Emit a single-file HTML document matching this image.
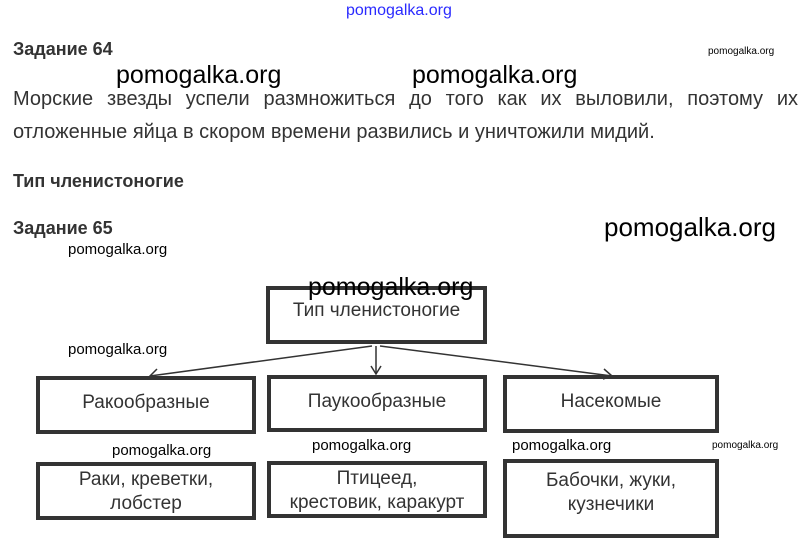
<!DOCTYPE html>
<html><head><meta charset="utf-8"><style>
body{margin:0;width:807px;height:543px;background:#fff;position:relative;overflow:hidden;font-family:"Liberation Sans",sans-serif;color:#333}
.a{position:absolute;white-space:nowrap}
.h{font-weight:bold;font-size:18px;color:#333}
.w{font-family:"Liberation Sans Narrow","Liberation Sans",sans-serif;color:#000}
.box{position:absolute;border:4px solid #333;box-sizing:border-box;display:flex;justify-content:center;font-size:19px;color:#333;text-align:center;line-height:26px}
.box.t{line-height:24px;padding-top:2px;font-size:19px}
</style></head><body>
<div class="a" style="left:346px;top:2px;font-size:16px;color:#2a2aff">pomogalka.org</div>
<div class="a h" style="left:13px;top:39px">Задание 64</div>
<div class="a w" style="left:708px;top:46px;font-size:10px">pomogalka.org</div>
<div class="a w" style="left:116px;top:61px;font-size:25px">pomogalka.org</div>
<div class="a w" style="left:412px;top:61px;font-size:25px">pomogalka.org</div>
<div class="a" style="left:13px;top:88px;width:785px;font-size:20px;text-align:justify;text-align-last:justify">Морские звезды успели размножиться до того как их выловили, поэтому их</div>
<div class="a" style="left:13px;top:121px;font-size:20px">отложенные яйца в скором времени развились и уничтожили мидий.</div>
<div class="a h" style="left:13px;top:171px">Тип членистоногие</div>
<div class="a h" style="left:13px;top:218px">Задание 65</div>
<div class="a w" style="left:604px;top:212px;font-size:26px">pomogalka.org</div>
<div class="a w" style="left:68px;top:241px;font-size:15px">pomogalka.org</div>

<div class="box" style="left:266px;top:286px;width:221px;height:58px;padding-top:8px">Тип членистоногие</div>
<div class="a w" style="left:308px;top:273px;font-size:25px">pomogalka.org</div>
<div class="a w" style="left:68px;top:341px;font-size:15px">pomogalka.org</div>
<svg class="a" style="left:0;top:0" width="807" height="543">
<g stroke="#333" stroke-width="1.5" fill="none">
<line x1="372" y1="346" x2="150" y2="376"/><polyline points="157,369 150,376 158,378"/>
<line x1="376" y1="346" x2="376" y2="374"/><polyline points="371,366 376,374 381,366"/>
<line x1="380" y1="346" x2="612" y2="376"/><polyline points="604,369 612,376 603,379"/>
</g></svg>
<div class="box" style="left:36px;top:376px;width:220px;height:58px;padding-top:10px">Ракообразные</div>
<div class="box" style="left:267px;top:375px;width:220px;height:57px;padding-top:10px">Паукообразные</div>
<div class="box" style="left:503px;top:375px;width:216px;height:58px;padding-top:10px">Насекомые</div>
<div class="a w" style="left:112px;top:442px;font-size:15px">pomogalka.org</div>
<div class="a w" style="left:312px;top:437px;font-size:15px">pomogalka.org</div>
<div class="a w" style="left:512px;top:437px;font-size:15px">pomogalka.org</div>
<div class="a w" style="left:712px;top:440px;font-size:10px">pomogalka.org</div>
<div class="box t" style="left:36px;top:462px;width:220px;height:58px">Раки, креветки,<br>лобстер</div>
<div class="box t" style="left:267px;top:461px;width:220px;height:57px">Птицеед,<br>крестовик, каракурт</div>
<div class="box t" style="left:503px;top:459px;width:216px;height:79px;padding-top:6px">Бабочки, жуки,<br>кузнечики</div>
</body></html>
